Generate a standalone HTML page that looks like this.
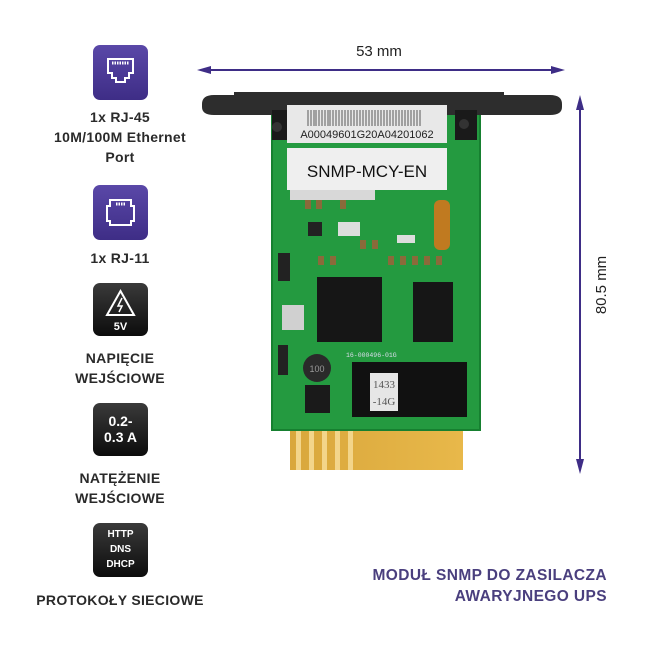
<!DOCTYPE html>
<html><head><meta charset="utf-8"><style>
body{margin:0;width:650px;height:650px;background:#fff;overflow:hidden;font-family:"Liberation Sans",sans-serif;}
.t{position:absolute;left:20px;width:200px;text-align:center;color:#2a2a2a;font-size:14px;font-weight:bold;line-height:20px;letter-spacing:0.3px}
.ic{position:absolute;left:93px;width:55px;height:55px;border-radius:7px;}
.pu{background:linear-gradient(#5a48a8,#3e2d86);}
.bk{background:linear-gradient(#3a3a3a,#0c0c0c);color:#fff;font-weight:bold;text-align:center;}
</style></head><body>
<div class="ic pu" style="top:45px"><svg width="55" height="55"><path d="M15 14h25v14h-4v5h-4v4h-9v-4h-4v-5h-4z" fill="none" stroke="#fff" stroke-width="2"/><path d="M19 18h17" stroke="#fff" stroke-width="3" stroke-dasharray="1.5 1"/></svg></div>
<div class="t" style="top:107px">1x RJ-45<br>10M/100M Ethernet<br>Port</div>
<div class="ic pu" style="top:185px"><svg width="55" height="55"><path d="M17 15h21v6h3v15h-3v4h-21v-4h-3v-15h3z" fill="none" stroke="#fff" stroke-width="2"/><path d="M23 19h9" stroke="#fff" stroke-width="3" stroke-dasharray="1.5 1"/></svg></div>
<div class="t" style="top:248px">1x RJ-11</div>
<div class="ic bk" style="top:283px;height:53px"><svg width="55" height="53"><path d="M27.5 8L41 32H14z" fill="none" stroke="#fff" stroke-width="2"/><path d="M29 15l-4 8h4l-3 6" fill="none" stroke="#fff" stroke-width="1.5"/><text x="27.5" y="47" fill="#fff" font-size="11" font-weight="bold" text-anchor="middle" font-family="Liberation Sans">5V</text></svg></div>
<div class="t" style="top:348px">NAPIĘCIE<br>WEJŚCIOWE</div>
<div class="ic bk" style="top:403px;height:53px;font-size:14px;line-height:16px;padding-top:10px;box-sizing:border-box">0.2-<br>0.3 A</div>
<div class="t" style="top:468px">NATĘŻENIE<br>WEJŚCIOWE</div>
<div class="ic bk" style="top:523px;height:54px;font-size:10px;line-height:15px;padding-top:4px;box-sizing:border-box">HTTP<br>DNS<br>DHCP</div>
<div class="t" style="top:590px;font-size:14px">PROTOKOŁY SIECIOWE</div>

<div style="position:absolute;left:330px;top:565px;width:277px;text-align:right;color:#4a3f7e;font-size:15.5px;font-weight:bold;line-height:21px;letter-spacing:0.4px">MODUŁ SNMP DO ZASILACZA<br>AWARYJNEGO UPS</div>

<svg style="position:absolute;left:0;top:0" width="650" height="650">
<defs><linearGradient id="g" x1="0" x2="1"><stop offset="0" stop-color="#d9a73c"/><stop offset="1" stop-color="#e8b84a"/></linearGradient></defs>
<text x="379" y="56" font-size="15" text-anchor="middle" fill="#222" font-family="Liberation Sans">53 mm</text>
<line x1="205" y1="70" x2="558" y2="70" stroke="#3e2d86" stroke-width="2"/>
<path d="M197 70l14-4v8z M565 70l-14-4v8z" fill="#3e2d86"/>
<line x1="580" y1="102" x2="580" y2="466" stroke="#3e2d86" stroke-width="2"/>
<path d="M580 95l-4 15h8z M580 474l-4-15h8z" fill="#3e2d86"/>
<text transform="translate(606,285) rotate(-90)" font-size="15" text-anchor="middle" fill="#222" font-family="Liberation Sans">80.5 mm</text>
<rect x="290" y="428" width="173" height="42" fill="url(#g)"/>
<g fill="#f3d58a"><rect x="296" y="428" width="5" height="42"/><rect x="309" y="428" width="5" height="42"/><rect x="322" y="428" width="5" height="42"/><rect x="335" y="428" width="5" height="42"/><rect x="348" y="428" width="5" height="42"/></g>
<rect x="272" y="105" width="208" height="325" fill="#249a40"/>
<rect x="272" y="105" width="208" height="325" fill="none" stroke="#168030" stroke-width="2"/>
<path d="M202 104q0-9 12-9h20v-3h270v3h46q12 0 12 9v3q0 8-12 8H214q-12 0-12-8z" fill="#2d2d2d"/>
<rect x="272" y="110" width="18" height="30" fill="#1a1a1a"/><rect x="455" y="110" width="22" height="30" fill="#1a1a1a"/>
<circle cx="277" cy="127" r="5" fill="#333"/><circle cx="464" cy="124" r="5" fill="#333"/>
<rect x="287" y="105" width="160" height="38" fill="#e8e8e8"/>
<g stroke="#333" stroke-width="0.8"><path d="M308 110v16M311 110v16M314 110v16M316 110v16M319 110v16M322 110v16M325 110v16M328 110v16M330 110v16M333 110v16M336 110v16M339 110v16M342 110v16M345 110v16M348 110v16M351 110v16M354 110v16M357 110v16M360 110v16M363 110v16M366 110v16M369 110v16M372 110v16M375 110v16M378 110v16M381 110v16M384 110v16M387 110v16M390 110v16M393 110v16M396 110v16M399 110v16M402 110v16M405 110v16M408 110v16M411 110v16M414 110v16M417 110v16M420 110v16"/></g>
<text x="367" y="138" font-size="11" text-anchor="middle" fill="#222" font-family="Liberation Sans">A00049601G20A04201062</text>
<rect x="287" y="148" width="160" height="42" fill="#efefef"/>
<rect x="290" y="190" width="85" height="10" fill="#d8d8d8"/>
<text x="367" y="177" font-size="17" text-anchor="middle" fill="#111" font-family="Liberation Sans">SNMP-MCY-EN</text>
<g fill="#8a6a3a"><rect x="305" y="200" width="6" height="9"/><rect x="316" y="200" width="6" height="9"/><rect x="340" y="200" width="6" height="9"/><rect x="360" y="240" width="6" height="9"/><rect x="372" y="240" width="6" height="9"/><rect x="388" y="256" width="6" height="9"/><rect x="400" y="256" width="6" height="9"/><rect x="412" y="256" width="6" height="9"/><rect x="424" y="256" width="6" height="9"/><rect x="436" y="256" width="6" height="9"/><rect x="318" y="256" width="6" height="9"/><rect x="330" y="256" width="6" height="9"/></g>
<rect x="317" y="277" width="65" height="65" fill="#161616"/>
<rect x="413" y="282" width="40" height="60" fill="#161616"/>
<rect x="352" y="362" width="115" height="55" fill="#111"/>
<rect x="370" y="373" width="28" height="38" fill="#e6e6e6"/>
<text x="384" y="388" font-size="11" text-anchor="middle" fill="#555" font-family="Liberation Serif">1433</text>
<text x="384" y="405" font-size="11" text-anchor="middle" fill="#555" font-family="Liberation Serif">-14G</text>
<circle cx="317" cy="368" r="14" fill="#2a2a2a"/><text x="317" y="372" font-size="9" text-anchor="middle" fill="#999" font-family="Liberation Sans">100</text>
<rect x="305" y="385" width="25" height="28" fill="#1a1a1a"/>
<rect x="282" y="305" width="22" height="25" fill="#d0d0d0"/>
<rect x="278" y="253" width="12" height="28" fill="#222"/>
<rect x="278" y="345" width="10" height="30" fill="#222"/>
<rect x="338" y="222" width="22" height="14" fill="#ddd"/>
<rect x="397" y="235" width="18" height="8" fill="#ddd"/>
<rect x="308" y="222" width="14" height="14" fill="#222"/>
<rect x="434" y="200" width="16" height="50" rx="6" fill="#c07a20"/>
<text x="346" y="357" font-size="6.5" fill="#dde" font-family="Liberation Mono">16-000496-01G</text>
</svg>
</body></html>
